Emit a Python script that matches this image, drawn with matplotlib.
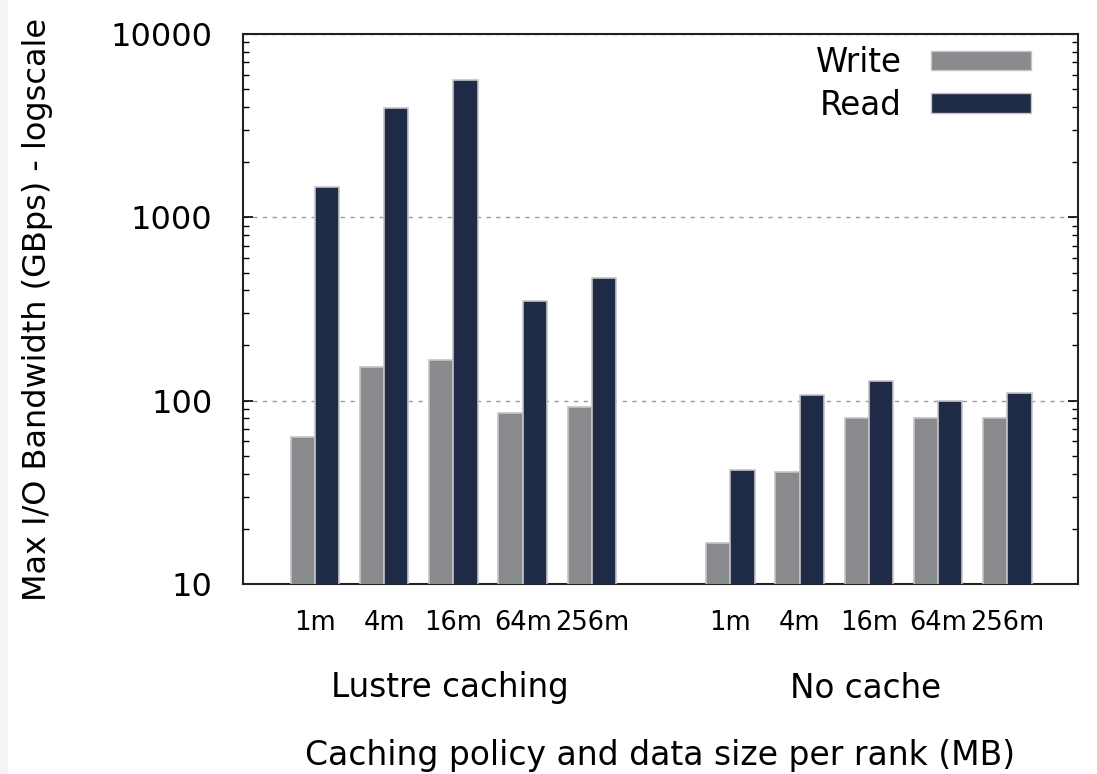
import matplotlib
matplotlib.use("Agg")
import matplotlib.pyplot as plt
import matplotlib.ticker as mticker
from matplotlib.patches import Rectangle, Patch
import numpy as np

sizes = ["1m", "4m", "16m", "64m", "256m"]
groups = ["Lustre caching", "No cache"]
write_lustre = [63, 153, 167, 86, 92]
read_lustre = [1460, 3940, 5600, 350, 466]
write_nocache = [16.8, 41, 80, 80, 80]
read_nocache = [41.7, 107, 128, 99, 110]

write_color = "#898a8e"
read_color = "#1f2b47"
edge_color = "#c4c4c4"

fig = plt.figure(figsize=(10.97, 7.74), dpi=100)
fig.patches.append(Rectangle((0, 0), 8 / 1097, 1, transform=fig.transFigure,
                             facecolor="#f4f4f4", edgecolor="none", zorder=0))
ax = fig.add_axes([243 / 1097, 190 / 774, 835 / 1097, 550 / 774])

pos_l = np.arange(5)
pos_n = np.arange(5) + 6
bw = 0.35
for pos, w, r in [(pos_l, write_lustre, read_lustre), (pos_n, write_nocache, read_nocache)]:
    ax.bar(pos - bw / 2, w, width=bw, color=write_color, edgecolor=edge_color, linewidth=1.2, zorder=3)
    ax.bar(pos + bw / 2, r, width=bw, color=read_color, edgecolor=edge_color, linewidth=1.2, zorder=3)

ax.set_yscale("log")
ax.set_ylim(10, 10000)
ax.set_xlim(-1.04, 11.02)

ax.yaxis.set_major_locator(mticker.FixedLocator([10, 100, 1000, 10000]))
ax.yaxis.set_major_formatter(mticker.FuncFormatter(lambda v, p: f"{int(round(v))}"))
ax.yaxis.set_minor_locator(mticker.LogLocator(base=10, subs=np.arange(2, 10)))
ax.yaxis.set_minor_formatter(mticker.NullFormatter())
ax.tick_params(axis="y", which="major", direction="in", length=7, width=1.2, right=True,
               labelsize=23, pad=22)
ax.tick_params(axis="y", which="minor", direction="in", length=4, width=1.0, right=True)

ax.set_xticks(list(pos_l) + list(pos_n))
ax.set_xticklabels(sizes + sizes)
ax.tick_params(axis="x", length=0, labelsize=18.5, pad=19)

ax.grid(axis="y", which="major", linestyle=(0, (3, 4)), color="#9a9a9a", linewidth=1.0, zorder=1)
for s in ax.spines.values():
    s.set_linewidth(1.5)
    s.set_color("#222222")

handles = [Patch(facecolor=write_color, edgecolor=edge_color, label="Write"),
           Patch(facecolor=read_color, edgecolor=edge_color, label="Read")]
leg = ax.legend(handles=handles, loc="upper right", frameon=False, fontsize=23.5,
                markerfirst=False, handlelength=3.05, handleheight=0.55,
                handletextpad=0.9, labelspacing=0.3, borderaxespad=0.0, borderpad=0.0,
                bbox_to_anchor=(1 - 47 / 835, 1 - 12 / 550))
for t in leg.get_texts():
    t.set_ha("right")

ax.set_ylabel("Max I/O Bandwidth (GBps) - logscale", fontsize=23, labelpad=0)
ax.yaxis.set_label_coords(-0.2275, 0.5)

def fx(px):
    return px / 1097

def fy(py):
    return 1 - py / 774

fig.text(fx(450), fy(688), groups[0], ha="center", va="center", fontsize=23.5)
fig.text(fx(866), fy(688), groups[1], ha="center", va="center", fontsize=23.5)
fig.text(fx(660), fy(755), "Caching policy and data size per rank (MB)", ha="center", va="center",
         fontsize=23.8)

fig.savefig("out.png", dpi=100)
